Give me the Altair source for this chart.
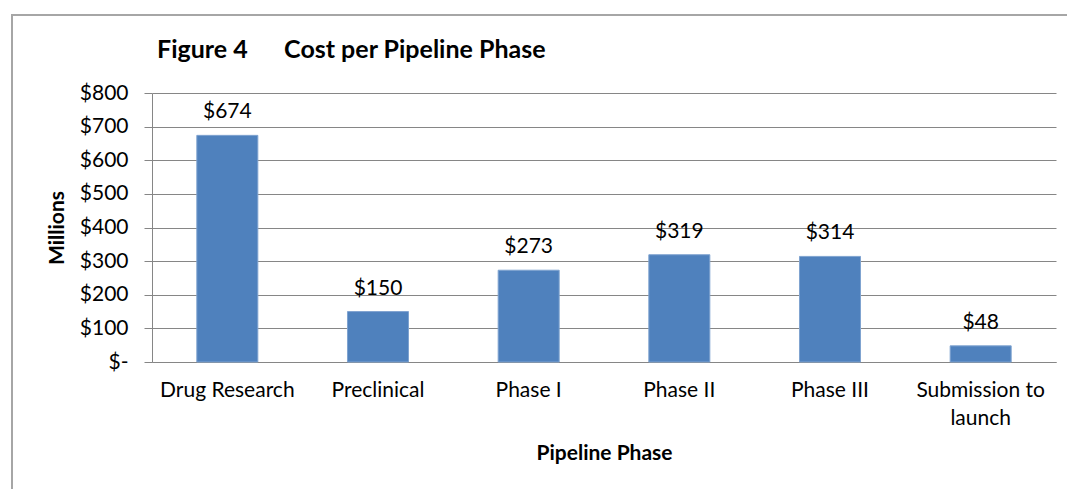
import altair as alt
import pandas as pd

# Cost per pipeline phase, in millions of dollars
phases = ["Drug Research", "Preclinical", "Phase I", "Phase II", "Phase III", "Submission to launch"]
costs = [674, 150, 273, 319, 314, 48]
y_ticks = [0, 100, 200, 300, 400, 500, 600, 700, 800]

df = pd.DataFrame({"phase": phases, "cost": costs})

FONT = "Lato"
GRID = "#868686"
BAR = "#4F81BD"
W, H = 904, 269
PAD = {"left": 152, "top": 93, "right": 11, "bottom": 127}

x_enc = alt.X(
    "phase:N",
    sort=phases,
    scale=alt.Scale(paddingInner=0.595, paddingOuter=0.2975),
    axis=alt.Axis(
        title="Pipeline Phase",
        labelAngle=0,
        ticks=False,
        grid=False,
        domainColor=GRID,
        labelFont=FONT,
        labelFontSize=21,
        labelColor="#000000",
        labelPadding=17,
        labelLineHeight=28,
        labelExpr="datum.label == 'Submission to launch' ? ['Submission to', 'launch'] : datum.label",
        titleFont=FONT,
        titleFontSize=21,
        titleFontWeight="bold",
        titleColor="#000000",
        titleBaseline="middle",
        titleY=91,
    ),
)

y_enc = alt.Y(
    "cost:Q",
    scale=alt.Scale(domain=[0, 800]),
    axis=alt.Axis(
        title="Millions",
        values=y_ticks,
        grid=True,
        gridColor=GRID,
        domainColor=GRID,
        tickColor=GRID,
        tickSize=8,
        labelFont=FONT,
        labelFontSize=21,
        labelColor="#000000",
        labelPadding=16,
        labelExpr="datum.value == 0 ? '$-\u2002' : '$' + datum.value",
        titleFont=FONT,
        titleFontSize=21,
        titleFontWeight="bold",
        titleColor="#000000",
        titleX=-95,
        titleY=H / 2,
        titleBaseline="middle",
    ),
)

base = alt.Chart(df).encode(x=x_enc, y=y_enc)

bars = base.mark_bar(color=BAR, stroke="#7FA3D0", strokeWidth=1)

labels = base.transform_calculate(label="'$' + datum.cost").mark_text(
    dy=-17, baseline="alphabetic", fontSize=21, font=FONT, color="#000000"
).encode(text="label:N")

# grey outline framing the whole figure
frame = alt.Chart(pd.DataFrame({"f": [0]})).mark_rect(
    fill="transparent", stroke="#A6A6A6", strokeWidth=2, clip=False
).encode(
    x=alt.value(12 - PAD["left"]),
    x2=alt.value(1067 - PAD["left"] + 40),
    y=alt.value(15 - PAD["top"]),
    y2=alt.value(489 - PAD["top"] + 40),
)

chart = alt.layer(frame, bars, labels).properties(
    width=W,
    height=H,
    padding=PAD,
    autosize="none",
    background="#FFFFFF",
    title=alt.TitleParams(
        text="Figure 4\u00a0\u00a0\u00a0\u00a0\u00a0\u00a0Cost per Pipeline Phase",
        anchor="start",
        frame="group",
        font=FONT,
        fontSize=25,
        fontWeight="bold",
        color="#000000",
        baseline="alphabetic",
        dx=5,
        offset=0,
        dy=69,
    ),
).configure_view(strokeWidth=0)

chart.save("out.html", embed_options={"renderer": "svg", "actions": False})
